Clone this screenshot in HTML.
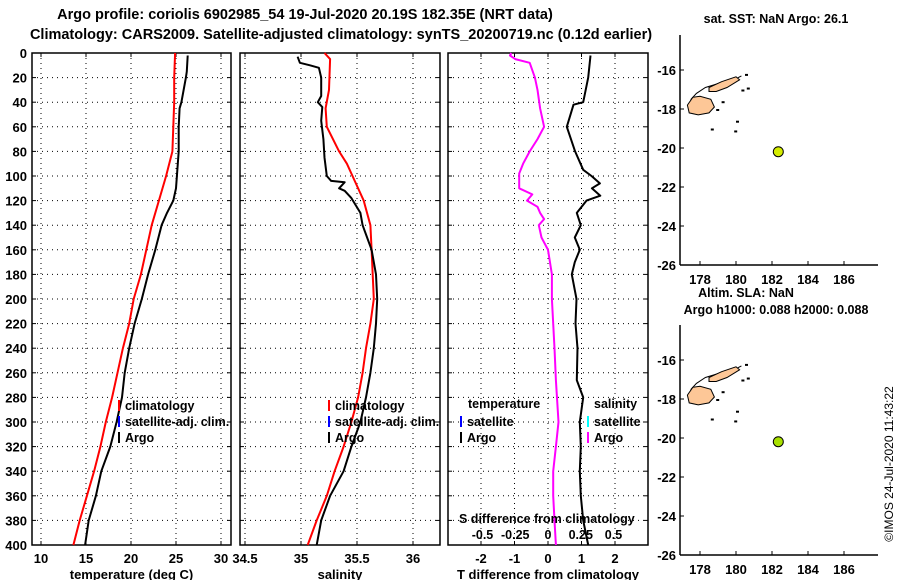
<!DOCTYPE html>
<html><head><meta charset="utf-8"><style>
html,body{margin:0;padding:0;background:#fff;}
svg{display:block;font-family:"Liberation Sans",sans-serif;font-weight:bold;}
text{fill:#000;}
</style></head><body>
<svg id="chart" width="900" height="580" viewBox="0 0 900 580" xmlns="http://www.w3.org/2000/svg">
<text x="305" y="19" font-size="14.5" text-anchor="middle">Argo profile: coriolis 6902985_54 19-Jul-2020 20.19S 182.35E (NRT data)</text>
<text x="341" y="39" font-size="14.5" text-anchor="middle">Climatology: CARS2009. Satellite-adjusted climatology: synTS_20200719.nc (0.12d earlier)</text>
<g id="panels"></g>
<g id="maps"></g>
<text transform="translate(893,464) rotate(-90)" font-size="12" font-weight="normal" text-anchor="middle">©IMOS 24-Jul-2020 11:43:22</text>
</svg>
<script>
// ---- data ----
const depthTicks = [0,20,40,60,80,100,120,140,160,180,200,220,240,260,280,300,320,340,360,380,400];
const tempTicks = [10,15,20,25,30];
const salTicks = [34.5,35,35.5,36];
const salTickLabels = ["34.5","35","35.5","36"];
const tdiffTicks = [-2,-1,0,1,2];
const sdiffTicks = [-0.5,-0.25,0,0.25,0.5];
const sdiffTickLabels = ["-0.5","-0.25","0","0.25","0.5"];

const tempClimDepth = [0,20,40,60,80,100,120,140,160,180,200,220,240,260,280,300,320,340,360,380,400];
const tempClim = [24.9,24.8,24.8,24.7,24.6,23.9,23.1,22.3,21.7,21.1,20.3,19.8,19.1,18.5,17.9,17.2,16.6,15.9,15.1,14.3,13.6];
const tempArgoDepth = [2,15,20,40,45,60,80,90,100,110,120,130,140,160,180,200,220,240,260,280,300,320,340,360,380,400];
const tempArgo = [26.3,26.2,26.1,25.6,25.4,25.3,25.3,25.2,25.1,25.0,24.7,24.0,23.4,22.7,21.9,21.2,20.4,19.8,19.3,19.0,18.4,17.7,16.7,16.1,15.3,14.9];

const salClimDepth = [0,5,30,45,60,80,90,100,120,140,160,180,200,220,240,260,280,300,320,340,360,380,400];
const salClim = [35.21,35.26,35.25,35.22,35.23,35.34,35.41,35.46,35.56,35.62,35.63,35.64,35.65,35.62,35.58,35.55,35.51,35.45,35.38,35.30,35.23,35.14,35.06];
const salArgoDepth = [3,8,10,12,20,35,40,44,55,70,85,100,104,105,110,112,118,130,140,150,160,180,200,220,240,260,280,300,320,340,360,380,400];
const salArgo = [34.97,34.99,35.08,35.16,35.18,35.18,35.15,35.19,35.18,35.20,35.21,35.23,35.27,35.39,35.34,35.39,35.45,35.53,35.55,35.59,35.63,35.67,35.68,35.67,35.65,35.62,35.58,35.53,35.45,35.38,35.26,35.18,35.14];

const tdiffDepth = [2,20,40,42,60,80,95,100,106,110,116,120,130,140,150,160,170,180,200,220,240,266,280,300,320,340,360,380,400];
const tdiffArgo = [1.27,1.2,1.05,0.76,0.56,0.81,1.05,1.3,1.55,1.31,1.56,1.15,0.86,0.98,0.8,0.95,0.8,0.71,0.85,0.82,0.88,0.86,1.05,0.95,0.98,0.95,0.98,1.05,1.2];
const sdiffDepth = [0,2,5,8,20,30,45,60,70,80,90,98,110,115,120,125,130,135,140,150,160,180,200,240,266,300,320,340,360,380,400];
const sdiffArgo = [-0.28,-0.29,-0.25,-0.14,-0.1,-0.08,-0.06,-0.03,-0.08,-0.14,-0.19,-0.22,-0.22,-0.12,-0.16,-0.08,-0.06,-0.03,-0.07,-0.05,0,0.03,0.03,0.05,0.06,0.08,0.06,0.04,0.04,0.05,0.06];

const lonTicks = [178,180,182,184,186];
const latTicks = [-16,-18,-20,-22,-24,-26];
const argoLon = [182.35];
const argoLat = [-20.19];

// ---- helpers ----
const NS = "http://www.w3.org/2000/svg";
function mk(tag, attrs, parent){const e=document.createElementNS(NS,tag);for(const k in attrs)e.setAttribute(k,attrs[k]);parent.appendChild(e);return e;}
const yTop=53, yBot=545;
const yD = d => yTop + d*(yBot-yTop)/400;
const panelsG = document.getElementById('panels');

function panel(name, x0, x1, xs, ticks, labels, yLabels, title){
  const g = mk('g',{},panelsG);
  
  
  depthTicks.forEach(d=>{
    if(d>0&&d<400){const l=mk('line',{x1:x0,x2:x1,y1:yD(d),y2:yD(d),stroke:'#000','stroke-width':1,'stroke-dasharray':'1,4'},g);
      
      }
    mk('line',{x1:x0,x2:x0+4,y1:yD(d),y2:yD(d),stroke:'#000'},g);
    mk('line',{x1:x1-4,x2:x1,y1:yD(d),y2:yD(d),stroke:'#000'},g);
  });
  ticks.forEach((v,i)=>{
    const x=xs(v);
    if(x>x0+1&&x<x1-1){const l=mk('line',{x1:x,x2:x,y1:yTop,y2:yBot,stroke:'#000','stroke-dasharray':'1,4'},g);
      
      }
    mk('line',{x1:x,x2:x,y1:yBot-4,y2:yBot,stroke:'#000'},g);
    mk('line',{x1:x,x2:x,y1:yTop,y2:yTop+4,stroke:'#000'},g);
    const t=mk('text',{x:x,y:563,'font-size':13,'text-anchor':'middle'},g);
    t.textContent=labels[i];
    
    
  });
  if(yLabels){
    depthTicks.forEach(d=>{const t=mk('text',{x:27,y:yD(d)+5,'font-size':13,'text-anchor':'end'},g);t.textContent=d;
      
      });
  }
  const r=mk('rect',{x:x0,y:yTop,width:x1-x0,height:yBot-yTop,fill:'none',stroke:'#000','stroke-width':1.5},g);
  
  
  if(title){const t=mk('text',{x:(x0+x1)/2,y:579,'font-size':13,'text-anchor':'middle'},g);t.textContent=title;
    
    }
  return g;
}
function line(g, name, depths, vals, xs, color){
  const pts = depths.map((d,i)=>xs(vals[i]).toFixed(1)+','+yD(d).toFixed(1)).join(' ');
  const p=mk('polyline',{points:pts,fill:'none',stroke:color,'stroke-width':2,'stroke-linejoin':'round'},g);
  
  
}
function legend(g, x, y, color, label){
  mk('line',{x1:x,x2:x,y1:y-7,y2:y+4,stroke:color,'stroke-width':2},g);
  const t=mk('text',{x:x+6,y:y+3,'font-size':12.5},g);t.textContent=label;
  
  
}

const xT = v => 41 + (v-10)*9;
const g1 = panel('temperature-panel',32,231,xT,tempTicks,tempTicks.map(String),true,'temperature (deg C)');
line(g1,'temperature-climatology-line',tempClimDepth,tempClim,xT,'#f00');
line(g1,'temperature-argo-line',tempArgoDepth,tempArgo,xT,'#000');
legend(g1,119,407,'#f00','climatology');
legend(g1,119,423,'#00f','satellite-adj. clim.');
legend(g1,119,439,'#000','Argo');

const xS = v => 245 + (v-34.5)*112;
const g2 = panel('salinity-panel',240,440,xS,salTicks,salTickLabels,false,'salinity');
line(g2,'salinity-climatology-line',salClimDepth,salClim,xS,'#f00');
line(g2,'salinity-argo-line',salArgoDepth,salArgo,xS,'#000');
legend(g2,329,407,'#f00','climatology');
legend(g2,329,423,'#00f','satellite-adj. clim.');
legend(g2,329,439,'#000','Argo');

const xTd = v => 548 + v*33.5;
const xSd = v => 548 + v*131;
const g3 = panel('difference-panel',448,648,xTd,tdiffTicks,tdiffTicks.map(String),false,'T difference from climatology');
line(g3,'temperature-difference-line',tdiffDepth,tdiffArgo,xTd,'#000');
line(g3,'salinity-difference-line',sdiffDepth,sdiffArgo,xSd,'#f0f');
{const t=mk('text',{x:468,y:408,'font-size':12.5},g3);t.textContent='temperature';
 
 }
{const t=mk('text',{x:594,y:408,'font-size':12.5},g3);t.textContent='salinity';
 
 }
legend(g3,461,423,'#00f','satellite');
legend(g3,461,439,'#000','Argo');
legend(g3,588,423,'#0ff','satellite');
legend(g3,588,439,'#f0f','Argo');
{const t=mk('text',{x:459,y:523,'font-size':12.5},g3);t.textContent='S difference from climatology';
 
 }
sdiffTicks.forEach((v,i)=>{const t=mk('text',{x:xSd(v),y:539,'font-size':12.5,'text-anchor':'middle'},g3);t.textContent=sdiffTickLabels[i];
  
  });

const mapsG = document.getElementById('maps');
function map(name, top, bottom){
  const g=mk('g',{},mapsG);
  
  
  const lat26 = bottom;
  const xL = lon => 700 + (lon-178)*18;
  const yL = lat => lat26 - (lat+26)*19.5;
  const sh = s => s.map(p=>xL(p[0]).toFixed(1)+','+yL(p[1]).toFixed(1)).join(' ');
  const reef=mk('polyline',{points:sh([[178.2,-18.2],[177.6,-17.9],[177.5,-17.5],[177.8,-17.2],[178.3,-16.9],[179.0,-16.7],[179.6,-16.6],[180.1,-16.4],[180.3,-16.3]]),fill:'none',stroke:'#000','stroke-width':1},g);
  
  
  const vl=mk('polygon',{points:sh([[177.3,-17.8],[177.6,-17.4],[178.0,-17.35],[178.6,-17.5],[178.8,-17.9],[178.5,-18.2],[177.9,-18.3],[177.4,-18.2]]),fill:'#fdc797',stroke:'#000','stroke-width':1},g);
  
  
  const vn=mk('polygon',{points:sh([[178.5,-16.9],[179.2,-16.6],[180.0,-16.35],[180.2,-16.5],[179.5,-16.9],[178.9,-17.1],[178.5,-17.1]]),fill:'#fdc797',stroke:'#000','stroke-width':1},g);
  
  
  [[180.5,-16.2],[180.6,-16.9],[179.2,-17.6],[178.9,-18.0],[180.0,-18.6],[179.9,-19.1],[178.6,-19.0],[180.3,-17.0]].forEach(p=>{
    mk('rect',{x:xL(p[0]),y:yL(p[1]),width:3,height:2,fill:'#000'},g);});
  mk('line',{x1:680,x2:680,y1:top,y2:bottom,stroke:'#000','stroke-width':1.5},g);
  mk('line',{x1:680,x2:878,y1:bottom,y2:bottom,stroke:'#000','stroke-width':1.5},g);
  lonTicks.forEach(v=>{mk('line',{x1:xL(v),x2:xL(v),y1:bottom-4,y2:bottom,stroke:'#000'},g);
    const t=mk('text',{x:xL(v),y:bottom+19,'font-size':13,'text-anchor':'middle'},g);t.textContent=v;
    
    });
  latTicks.forEach(v=>{mk('line',{x1:680,x2:684,y1:yL(v),y2:yL(v),stroke:'#000'},g);
    const t=mk('text',{x:676,y:yL(v)+5,'font-size':13,'text-anchor':'end'},g);t.textContent=v;
    
    });
  argoLon.forEach((lon,i)=>{const c=mk('circle',{cx:xL(lon),cy:yL(argoLat[i]),r:5,fill: top<100?'#d4ec00':'#a8e000',stroke:'#000'},g);
    
    });
  return g;
}
map('sst-map',35,265);
map('sla-map',325,555);
[['sat. SST: NaN Argo: 26.1',776,23,'sst-title'],['Altim. SLA: NaN',746,297,'sla-title'],['Argo h1000: 0.088 h2000: 0.088',776,314,'steric-height-title']].forEach(a=>{
  const t=mk('text',{x:a[1],y:a[2],'font-size':12.5,'text-anchor':'middle'},mapsG);t.textContent=a[0];
  
  
});
</script>
</body></html>
